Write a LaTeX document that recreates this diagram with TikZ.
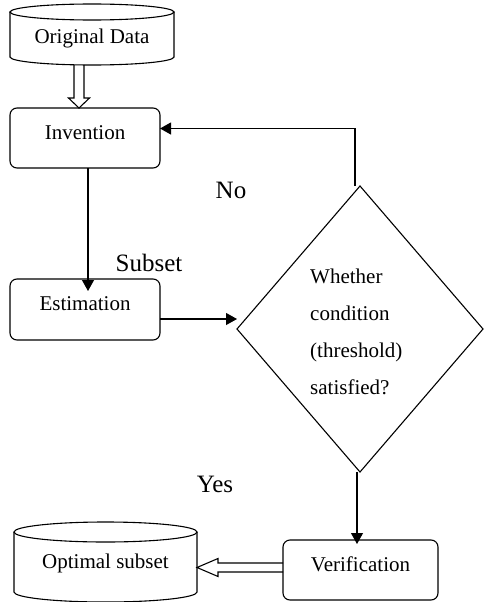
\documentclass[tikz,border=0pt]{standalone}
\usepackage{fontspec}
\setmainfont{Liberation Serif}
\usetikzlibrary{shapes.geometric,arrows.meta,calc}
\begin{document}
\begin{tikzpicture}[x=1pt,y=-1pt,
  box/.style={draw, rounded corners=7pt, line width=1.1pt, minimum width=150pt, minimum height=60pt, inner sep=0pt, outer sep=0pt, font=\fontsize{21}{25}\selectfont, text height=14.5pt, text depth=12.5pt},
  dbnode/.style={inner sep=0pt, outer sep=0pt, font=\fontsize{21}{25}\selectfont},
  arr/.style={line width=1.1pt, -{Triangle[length=11pt,width=12pt]}},
  lbl/.style={font=\fontsize{25}{30}\selectfont, inner sep=0pt},
  hollow/.style={line width=1.1pt, line join=miter}]
\useasboundingbox (0,0) rectangle (484,602);

% Original Data cylinder
\node[dbnode, minimum width=164pt, minimum height=61pt, text height=22pt, text depth=4.5pt] (od) at (92,34.5) {Original Data};
\draw[hollow] ($(od.north)+(0,8)$) ellipse[x radius=82, y radius=8];
\draw[hollow] ($(od.north west)+(0,8)$) -- ($(od.south west)+(0,-8)$) arc[start angle=180,end angle=0,x radius=82,y radius=8] -- ($(od.north east)+(0,8)$);

% boxes
\node[box] (inv) at (85,138) {Invention};
\node[box, minimum height=61pt] (est) at (85,309.5) {Estimation};
\node[box, minimum width=155pt] (ver) at (360.5,570) {Verification};

% diamond
\node[draw, diamond, line width=1.1pt, minimum width=246pt, minimum height=286pt, inner sep=0pt, outer sep=0pt] (dia) at (360,329) {};
\node[font=\fontsize{21}{37}\selectfont, align=left, anchor=west, inner sep=0pt] (dtx) at (310,332) {Whether\\condition\\(threshold)\\satisfied?};

% Optimal subset cylinder
\node[dbnode, minimum width=183pt, minimum height=80pt, text height=18pt, text depth=4.5pt] (os) at (105.5,562) {Optimal subset};
\draw[hollow] ($(os.north)+(0,10)$) ellipse[x radius=91.5, y radius=10];
\draw[hollow] ($(os.north west)+(0,10)$) -- ($(os.south west)+(0,-10)$) arc[start angle=180,end angle=0,x radius=91.5,y radius=10] -- ($(os.north east)+(0,10)$);

% hollow arrow od -> inv
\coordinate (d1) at ([xshift=-13pt]od.south);
\coordinate (t1) at (d1 |- inv.north);
\draw[hollow] ($(d1)+(-5,0)$) -- ($(t1)+(-5,-10)$) -- ($(t1)+(-10.5,-10)$) -- (t1) -- ($(t1)+(10.5,-10)$) -- ($(t1)+(5,-10)$) -- ($(d1)+(5,0)$);

% inv -> est
\draw[arr] ([xshift=3pt]inv.south) -- ([xshift=3pt,yshift=-12pt]est.north);

% est -> diamond
\coordinate (e1) at ([yshift=-9.5pt]est.east);
\draw[arr] (e1) -- (e1 -| dia.west);

% diamond -> inv (No)
\coordinate (n1) at ([xshift=-5pt]dia.north);
\draw[arr] (n1) |- ([yshift=9.5pt]inv.east);

% diamond -> ver (Yes)
\coordinate (s1) at ([xshift=-3pt]dia.south);
\draw[arr] (s1) -- ([yshift=-4pt]s1 |- ver.north);

% hollow arrow ver -> os
\coordinate (v1) at ([yshift=2.5pt]ver.west);
\coordinate (t2) at (os.east |- v1);
\draw[hollow] ($(v1)+(0,-4.5)$) -- ($(t2)+(21,-4.5)$) -- ($(t2)+(21,-9)$) -- (t2) -- ($(t2)+(21,9)$) -- ($(t2)+(21,4.5)$) -- ($(v1)+(0,4.5)$);

% labels
\node[lbl] (no) at (231,190) {No};
\node[lbl] (sub) at (149,263) {Subset};
\node[lbl] (yes) at (215,484) {Yes};
\end{tikzpicture}
\end{document}
